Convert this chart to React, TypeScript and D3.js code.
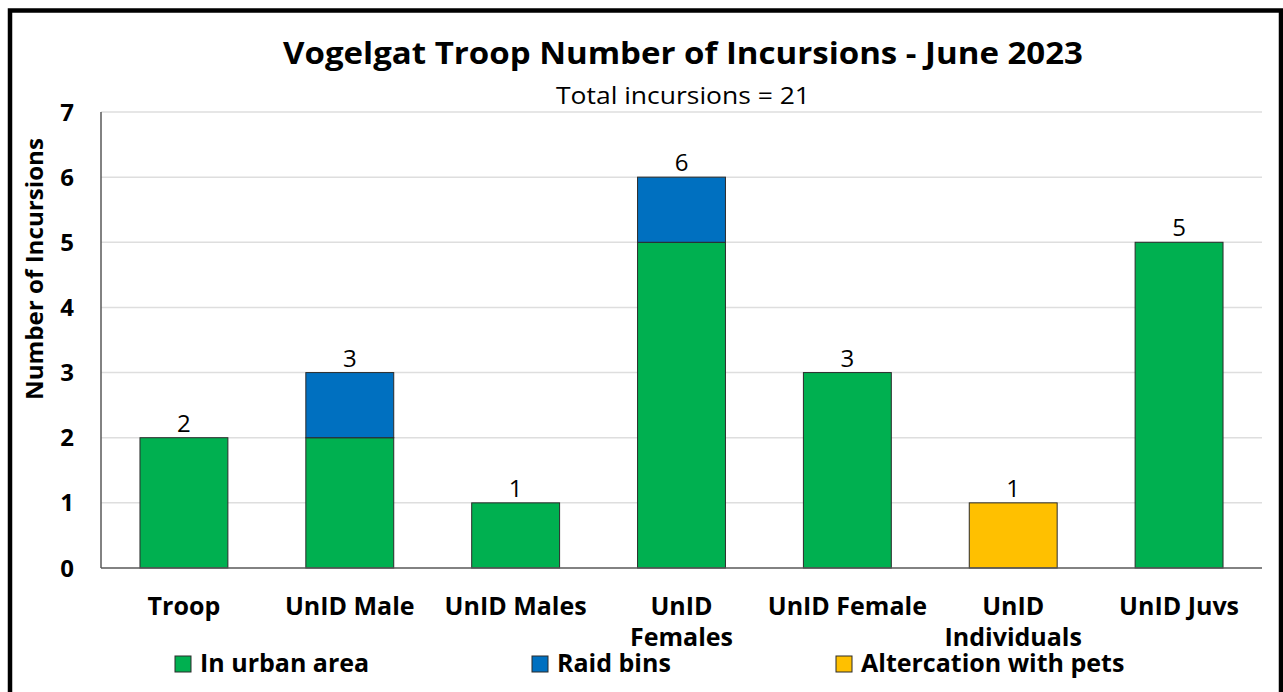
import React from "react";
import * as d3 from "d3";

const categories = ["Troop", "UnID Male", "UnID Males", "UnID Females", "UnID Female", "UnID Individuals", "UnID Juvs"];
const urban = [2, 2, 1, 5, 3, 0, 5];
const raid = [0, 1, 0, 1, 0, 0, 0];
const pets = [0, 0, 0, 0, 0, 1, 0];
const seriesNames = ["In urban area", "Raid bins", "Altercation with pets"];
const seriesColors = ["#00B050", "#0070C0", "#FFC000"];
const yTicks = [0, 1, 2, 3, 4, 5, 6, 7];
const title = "Vogelgat Troop Number of Incursions - June 2023";
const subtitle = "Total incursions = 21";
const yTitle = "Number of Incursions";

const W = 1283;
const H = 692;
const FONT = "'Open Sans', 'DejaVu Sans', sans-serif";

function wrapLabel(s: string): string[] {
  if (s.length <= 11) return [s];
  const i = s.indexOf(" ");
  return [s.slice(0, i), s.slice(i + 1)];
}

export default function App() {
  const x = d3.scaleBand<string>().domain(categories).range([101, 1262]).paddingInner(0.47).paddingOuter(0.235);
  const y = d3.scaleLinear().domain([0, 7]).range([568, 112]);

  const rows = categories.map((c, i) => ({ cat: c, s0: urban[i], s1: raid[i], s2: pets[i] }));
  const stack = d3.stack<any>().keys(["s0", "s1", "s2"]);
  const layers = stack(rows);
  const totals = categories.map((_, i) => urban[i] + raid[i] + pets[i]);

  const legendX = [175, 532, 836];

  return (
    <svg width={W} height={H} style={{ position: "fixed", left: 0, top: 0, display: "block", background: "#fff" }} fontFamily={FONT}>
      <rect x={0} y={0} width={W} height={H} fill="#fff" />
      <rect x={10} y={10.5} width={1271} height={720} fill="none" stroke="#000" strokeWidth={4.5} />

      {/* gridlines */}
      {yTicks.filter((t) => t > 0).map((t) => (
        <line key={t} x1={101} x2={1262} y1={y(t)} y2={y(t)} stroke="#dedede" strokeWidth={1.5} />
      ))}

      {/* bars */}
      {layers.map((layer, li) =>
        layer.map((d, i) =>
          d[1] - d[0] > 0 ? (
            <rect
              key={`${li}-${i}`}
              x={x(categories[i])}
              y={y(d[1])}
              width={x.bandwidth()}
              height={y(d[0]) - y(d[1])}
              fill={seriesColors[li]}
              stroke="#2b2b2b"
              strokeWidth={1}
            />
          ) : null
        )
      )}

      {/* axes */}
      <line x1={101} x2={101} y1={112} y2={568} stroke="#595959" strokeWidth={1.5} />
      <line x1={101} x2={1262} y1={568} y2={568} stroke="#595959" strokeWidth={1.5} />

      {/* y ticks */}
      {yTicks.map((t) => (
        <text key={t} x={74} y={y(t)} dy="0.36em" textAnchor="end" fontSize={24} fontWeight={700} fill="#000">
          {t}
        </text>
      ))}

      {/* data labels */}
      {totals.map((v, i) => (
        <text key={i} x={(x(categories[i]) as number) + x.bandwidth() / 2} y={y(v) - 6} textAnchor="middle" fontSize={24} fill="#000">
          {v}
        </text>
      ))}

      {/* x labels */}
      {categories.map((c, i) => (
        <text key={c} x={(x(c) as number) + x.bandwidth() / 2} y={615} textAnchor="middle" fontSize={25} fontWeight={700} fill="#000">
          {wrapLabel(c).map((l, k) => (
            <tspan key={k} x={(x(c) as number) + x.bandwidth() / 2} dy={k === 0 ? 0 : 31}>
              {l}
            </tspan>
          ))}
        </text>
      ))}

      {/* titles */}
      <text x={683} y={64} textAnchor="middle" fontSize={30} fontWeight={700} fill="#000" textLength={800} lengthAdjust="spacingAndGlyphs">
        {title}
      </text>
      <text x={683} y={104} textAnchor="middle" fontSize={23} fill="#000" textLength={254} lengthAdjust="spacingAndGlyphs">
        {subtitle}
      </text>
      <text transform={`translate(43,269) rotate(-90)`} textAnchor="middle" fontSize={23} fontWeight={700} fill="#000" textLength={262} lengthAdjust="spacingAndGlyphs">
        {yTitle}
      </text>

      {/* legend */}
      {seriesNames.map((n, i) => (
        <g key={n}>
          <rect x={legendX[i]} y={656} width={16} height={16} fill={seriesColors[i]} stroke="#2b2b2b" strokeWidth={1} />
          <text x={legendX[i] + 25} y={672} fontSize={25} fontWeight={700} fill="#000">
            {n}
          </text>
        </g>
      ))}
    </svg>
  );
}
